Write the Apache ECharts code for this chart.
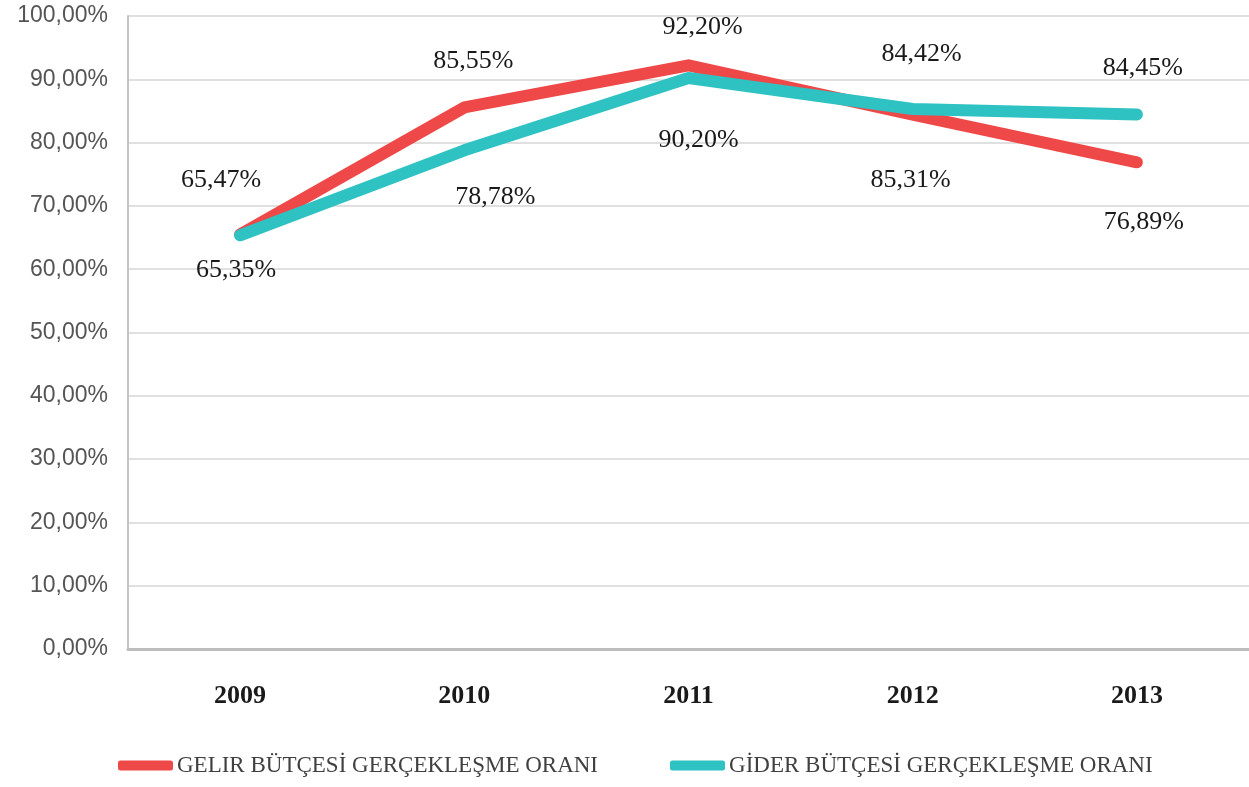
<!DOCTYPE html>
<html>
<head>
<meta charset="utf-8">
<script src="https://cdn.jsdelivr.net/npm/echarts@6/dist/echarts.min.js"></script>
<style>
  html, body { margin: 0; padding: 0; background: #fff; }
  #main { width: 1249px; height: 787px; }
</style>
</head>
<body>
<div id="main"></div>
<script>
// veriler
var years = ['2009', '2010', '2011', '2012', '2013'];
var gelirName = 'GELIR BÜTÇESİ GERÇEKLEŞME ORANI';
var giderName = 'GİDER BÜTÇESİ GERÇEKLEŞME ORANI';
var gelirValues = [65.47, 85.55, 92.20, 84.42, 76.89];
var giderValues = [65.35, 78.78, 90.20, 85.31, 84.45];

// etiket kaydırmaları (px), grafikteki yerlerine göre
var gelirLabelOffsets = [[-19, -54], [9, -46], [14, -38], [9, -60], [7, 60]];
var giderLabelOffsets = [[-4, 35], [31, 47], [10, 62], [-2, 71], [6, -46]];

var myChart = echarts.init(document.getElementById('main'));

function pct(v) {
    return v.toFixed(2).replace('.', ',') + '%';
}

function buildData(values, offsets) {
    return values.map(function (v, i) {
        return {
            value: v,
            label: { offset: offsets[i] }
        };
    });
}

var labelStyle = {
    show: true,
    position: 'inside',
    fontFamily: 'Liberation Serif',
    fontSize: 26,
    color: '#1a1a1a',
    formatter: function (p) { return pct(p.value); }
};

var option = {
    backgroundColor: '#fff',
    animation: false,
    grid: {
        left: 128,
        top: 16,
        width: 1125,
        height: 633
    },
    legend: {
        left: 113,
        top: 749,
        itemWidth: 55,
        itemHeight: 10,
        itemGap: 72,
        icon: 'roundRect',
        textStyle: {
            fontFamily: 'Liberation Serif',
            fontSize: 23,
            color: '#404040',
            padding: [0, 0, 0, -1]
        },
        data: [gelirName, giderName]
    },
    xAxis: {
        type: 'category',
        data: years,
        boundaryGap: true,
        axisLine: { lineStyle: { color: '#bdbdbd', width: 3 } },
        axisTick: { show: false },
        axisLabel: {
            margin: 34,
            fontFamily: 'Liberation Serif',
            fontWeight: 'bold',
            fontSize: 26,
            color: '#1a1a1a'
        }
    },
    yAxis: {
        type: 'value',
        min: 0,
        max: 100,
        interval: 10,
        axisLine: { show: true, lineStyle: { color: '#c4c4c4', width: 2 } },
        axisTick: { show: false },
        splitLine: { lineStyle: { color: '#e0e0e0', width: 2 } },
        axisLabel: {
            margin: 20,
            fontFamily: 'Liberation Sans',
            fontSize: 23,
            color: '#555',
            formatter: function (v) { return pct(v); }
        }
    },
    series: [
        {
            name: gelirName,
            type: 'line',
            data: buildData(gelirValues, gelirLabelOffsets),
            symbol: 'circle',
            symbolSize: 0,
            color: '#ef4848',
            lineStyle: { width: 12, color: '#ef4848', cap: 'round', join: 'round' },
            label: labelStyle,
            z: 2
        },
        {
            name: giderName,
            type: 'line',
            data: buildData(giderValues, giderLabelOffsets),
            symbol: 'circle',
            symbolSize: 0,
            color: '#2ec2c2',
            lineStyle: { width: 12, color: '#2ec2c2', cap: 'round', join: 'round' },
            label: labelStyle,
            z: 3
        }
    ]
};

myChart.setOption(option);
</script>
</body>
</html>
